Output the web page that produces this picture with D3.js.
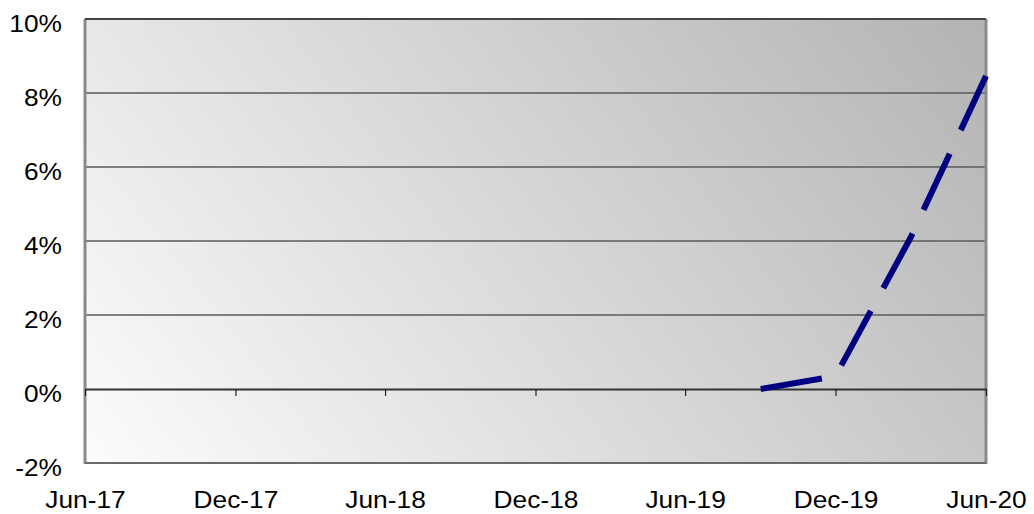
<!DOCTYPE html>
<html>
<head>
<meta charset="utf-8">
<script src="https://cdn.jsdelivr.net/npm/d3@7"></script>
<style>
  html, body { margin: 0; padding: 0; background: #ffffff; }
  svg { display: block; }
  text { font-family: "Liberation Sans", Arial, sans-serif; fill: #000; }
</style>
</head>
<body>
<svg id="chart" width="1034" height="514"></svg>
<script>
// ---- data ----
const xTickLabels = ["Jun-17", "Dec-17", "Jun-18", "Dec-18", "Jun-19", "Dec-19", "Jun-20"];
const yTickValues = [-2, 0, 2, 4, 6, 8, 10];
const seriesDates = ["Sep-19", "Dec-19", "Mar-20", "Jun-20"];
const seriesValues = [0.0, 0.35, 4.08, 8.46];

// ---- layout ----
const W = 1034, H = 514;
const plot = { left: 85, right: 986, top: 19, bottom: 463 };
const fontSize = 23.5, stretch = 1.12;

const parse = d3.timeParse("%b-%y");
const svg = d3.select("#chart");

const x = d3.scaleTime()
  .domain([parse(xTickLabels[0]), parse(xTickLabels[xTickLabels.length - 1])])
  .range([plot.left, plot.right]);
const y = d3.scaleLinear().domain([-2, 10]).range([plot.bottom, plot.top]);

// background gradient
const defs = svg.append("defs");
const grad = defs.append("linearGradient")
  .attr("id", "bg").attr("gradientUnits", "userSpaceOnUse")
  .attr("x1", plot.left).attr("y1", plot.bottom)
  .attr("x2", plot.left + 776).attr("y2", plot.bottom - 604);
grad.append("stop").attr("offset", 0).attr("stop-color", "rgb(252,252,252)");
grad.append("stop").attr("offset", 1).attr("stop-color", "rgb(179,179,179)");

svg.append("rect")
  .attr("x", plot.left).attr("y", plot.top)
  .attr("width", plot.right - plot.left).attr("height", plot.bottom - plot.top)
  .attr("fill", "url(#bg)");

// gridlines
svg.append("g").selectAll("line")
  .data(yTickValues.filter(v => v !== -2 && v !== 0))
  .join("line")
  .attr("x1", plot.left).attr("x2", plot.right)
  .attr("y1", d => y(d)).attr("y2", d => y(d))
  .attr("stroke", "#5a5a5a").attr("stroke-width", 1.4);

// plot borders (left, right, bottom)
const border = svg.append("g").attr("fill", "none");
border.append("line").attr("x1", plot.left).attr("x2", plot.left)
  .attr("y1", plot.top).attr("y2", plot.bottom + 1)
  .attr("stroke", "#8a8a8a").attr("stroke-width", 3);
border.append("line").attr("x1", plot.right).attr("x2", plot.right)
  .attr("y1", plot.top).attr("y2", plot.bottom + 1)
  .attr("stroke", "#8a8a8a").attr("stroke-width", 3);
border.append("line").attr("x1", plot.left).attr("x2", plot.right)
  .attr("y1", plot.bottom).attr("y2", plot.bottom)
  .attr("stroke", "#6a6a6a").attr("stroke-width", 2);
svg.append("line").attr("x1", plot.left).attr("x2", plot.right)
  .attr("y1", y(10)).attr("y2", y(10))
  .attr("stroke", "#444").attr("stroke-width", 2);

// zero axis with tick marks
const zeroAxis = svg.append("g")
  .attr("transform", `translate(0,${y(0)})`)
  .call(d3.axisBottom(x).tickValues(xTickLabels.map(parse)).tickSize(7).tickSizeOuter(0).tickFormat(""));
zeroAxis.select(".domain").attr("stroke", "#333").attr("stroke-width", 2);
zeroAxis.selectAll(".tick line").attr("stroke", "#222").attr("stroke-width", 1.2);

// x labels
const xLab = svg.append("g")
  .attr("transform", `translate(0,${plot.bottom})`)
  .call(d3.axisBottom(x).tickValues(xTickLabels.map(parse)).tickSize(0)
    .tickFormat(d3.timeFormat("%b-%y")));
xLab.select(".domain").remove();
xLab.selectAll(".tick line").remove();
xLab.selectAll("text")
  .attr("y", 45).attr("dy", null)
  .attr("transform", `scale(${stretch},1)`)
  .style("font-size", fontSize + "px");

// y labels
const yLab = svg.append("g")
  .attr("transform", `translate(${plot.left},0)`)
  .call(d3.axisLeft(y).tickValues(yTickValues).tickSize(0).tickFormat(d => d + "%"));
yLab.select(".domain").remove();
yLab.selectAll(".tick line").remove();
yLab.selectAll("text")
  .attr("x", -23 / stretch).attr("dy", null).attr("y", 12.3)
  .attr("transform", `scale(${stretch},1)`)
  .style("font-size", fontSize + "px");

// series line
const pts = seriesDates.map((d, i) => [parse(d), seriesValues[i]]);
svg.append("path")
  .datum(pts)
  .attr("fill", "none")
  .attr("stroke", "#000080")
  .attr("stroke-width", 6)
  .attr("stroke-dasharray", "62,26")
  .attr("stroke-linecap", "butt")
  .attr("d", d3.line().x(d => x(d[0])).y(d => y(d[1])));
</script>
</body>
</html>
